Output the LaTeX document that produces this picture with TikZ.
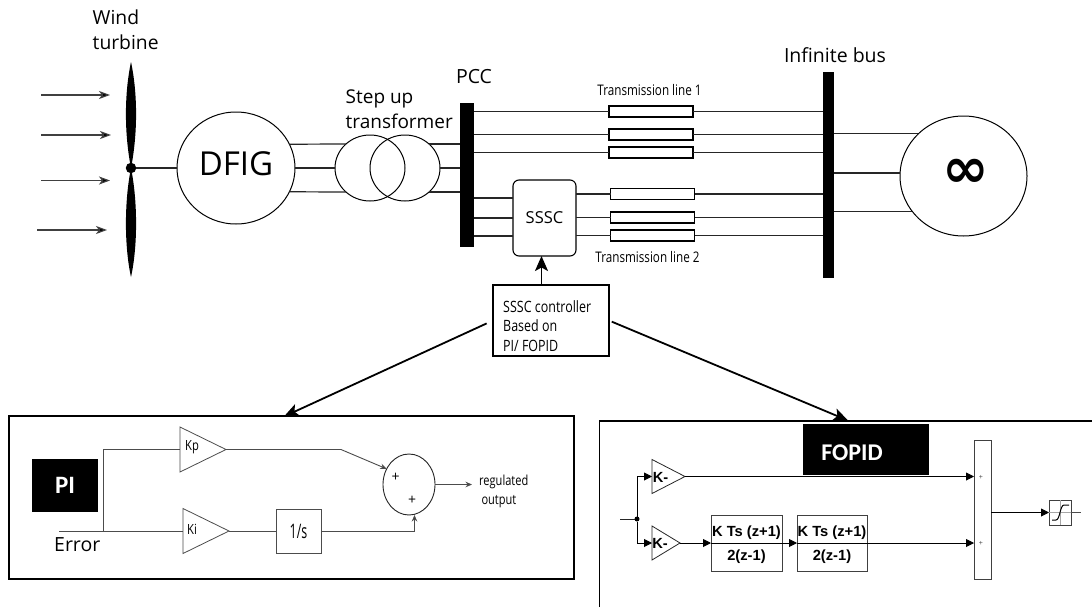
\documentclass[tikz,border=0pt]{standalone}
\usepackage{fontspec}
\setmainfont{Open Sans}
\newfontfamily\narrowfont[FakeStretch=0.8]{Open Sans}
\newfontfamily\vnarrowfont[FakeStretch=0.62]{Open Sans}
\newfontfamily\calbold[BoldFont=Carlito Bold]{Carlito}
\newfontfamily\arialfont{Liberation Sans}
\newfontfamily\symfont{DejaVu Sans}
\usetikzlibrary{arrows.meta,shapes.geometric}
\newcommand{\fsz}[2]{\fontsize{#1}{#2}\selectfont}
\tikzset{
  label text/.style={inner sep=0pt,align=left,font=\fsz{19.3}{25}},
  big label/.style={inner sep=0pt,font=\fsz{19.5}{19.5}},
  narrow text/.style={inner sep=0pt,align=left,font=\narrowfont\fsz{15.6}{19.5}},
  line label/.style={inner sep=0pt,font=\narrowfont\fsz{14.6}{14.6}},
  wire/.style={line width=1.2pt,draw=black!85},
  thinwire/.style={line width=0.9pt,draw=black!70},
  windarrow/.style={line width=1.1pt,draw=black!75,-{Stealth[length=11pt,width=8pt,inset=3pt,fill=black]}},
  ctrlarrow/.style={line width=1.8pt,-{Stealth[length=15pt,width=13pt,inset=3.5pt]}},
  smallarrow/.style={thinwire,-{Stealth[length=6.5pt,width=5.5pt,fill=black]}},
  simarrow/.style={line width=0.9pt,-{Triangle[length=8pt,width=8pt]}},
  busbar/.style={fill=black,draw=none,inner sep=0pt,outer sep=0pt},
  machine/.style={ellipse,draw,line width=1pt,inner sep=0pt,outer sep=0pt},
  linebox/.style={rectangle,draw,line width=1.1pt,fill=white,inner sep=0pt,outer sep=0pt,minimum width=84pt,minimum height=11pt},
  panel/.style={rectangle,draw,line width=1.6pt,inner sep=0pt,outer sep=0pt},
  blackbox/.style={rectangle,fill=black,inner sep=0pt,outer sep=0pt,text=white,font=\calbold\bfseries\fsz{25}{25}},
  gain/.style={isosceles triangle,isosceles triangle stretches,shape border rotate=0,draw=black!70,line width=0.8pt,inner sep=0pt,outer sep=0pt,anchor=lower side},
  simgain/.style={gain,draw=black!85,fill=white},
  simbox/.style={rectangle,draw=black!75,line width=0.9pt,fill=white,inner sep=0pt,outer sep=0pt},
  simtext/.style={inner sep=0pt,font=\arialfont\bfseries\fsz{14.7}{14.7}},
  gaintext/.style={inner sep=0pt,font=\narrowfont\fsz{14}{14}},
  shadowbox/.style={rectangle,fill=black!30,draw=none,inner sep=0pt,outer sep=0pt}
}
\begin{document}
\begin{tikzpicture}[x=1pt,y=-1pt]
\useasboundingbox (0,0) rectangle (1092,608);
\fill[white] (0,0) rectangle (1092,608);
% ---- turbine
\node[label text,anchor=west] (windlabel) at (92.5,29.5) {Wind\\turbine};
\fill (131,62) .. controls (124,95) and (124.5,135) .. (131,168) .. controls (137.5,135) and (138,95) .. (131,62);
\fill (131,168) .. controls (124.5,200) and (124,245) .. (131,277) .. controls (138,245) and (137.5,200) .. (131,168);
\node[circle,fill=black,inner sep=0pt,outer sep=0pt,minimum size=10.5pt] (hub) at (131,168) {};
\coordinate (w1a) at (41,95); \coordinate (w1b) at (110,95);
\coordinate (w2a) at (41,135); \coordinate (w2b) at (111,135);
\coordinate (w3a) at (41,180.5); \coordinate (w3b) at (110,180.5);
\coordinate (w4a) at (37,230); \coordinate (w4b) at (107,230);
\draw[windarrow] (w1a) -- (w1b);
\draw[windarrow] (w2a) -- (w2b);
\draw[windarrow] (w3a) -- (w3b);
\draw[windarrow] (w4a) -- (w4b);
% ---- DFIG
\node[machine,minimum width=118pt,minimum height=112pt] (dfig) at (236,168) {};
\node[inner sep=0pt,font=\fsz{33}{33}] (dfigtext) at (236,164) {DFIG};
\draw[wire] (hub) -- (dfig.west);
% ---- transformer
\node[machine,minimum width=70pt,minimum height=66pt] (tra) at (370,168) {};
\node[machine,minimum width=70pt,minimum height=66pt] (trb) at (405,168) {};
\node[label text,anchor=west,font=\fsz{19}{25}] (stepup) at (345.5,109.5) {Step up\\transformer};
% ---- PCC bus
\node[busbar,minimum width=14pt,minimum height=144pt] (pcc) at (467,175) {};
\node[big label] (pcclabel) at (474,77) {PCC};
\draw[wire] (dfig.east) -- (tra.west);
\draw[wire] (trb.east) -- (pcc.west |- trb.east);
\draw[wire] (dfig.24) -- (tra.135);
\draw[wire] (dfig.-24) -- (tra.225);
\draw[wire] (trb.45) -- (pcc.west |- trb.45);
\draw[wire] (trb.-45) -- (pcc.west |- trb.-45);
% ---- infinite bus
\node[busbar,minimum width=11pt,minimum height=206pt] (inf) at (828.5,175) {};
\node[big label] (inflabel) at (835,55) {Infinite bus};
\node[machine,minimum width=127pt,minimum height=120pt] (grid) at (963.5,176) {};
\node[inner sep=0pt,font=\symfont\bfseries\fsz{56}{56}] (infty) at (966,173) {∞};
\draw[wire] (inf.east |- grid.137) -- (grid.137);
\draw[wire] (inf.east |- grid.west) ++(0,-3) coordinate (g2) -- (g2 -| grid.west);
\draw[wire] (inf.east |- grid.215) -- (grid.215);
% ---- line boxes upper
\node[linebox] (l1) at (651,111.5) {};
\node[linebox] (l2) at (651,134.5) {};
\node[linebox] (l3) at (651,152.5) {};
\draw[wire] (pcc.east |- l1) -- (l1.west) (l1.east) -- (inf.west |- l1);
\draw[wire] (pcc.east |- l2) -- (l2.west) (l2.east) -- (inf.west |- l2);
\draw[wire] (pcc.east |- l3) -- (l3.west) (l3.east) -- (inf.west |- l3);
\node[line label] (tl1) at (649.5,90) {Transmission line 1};
% ---- SSSC
\node[rectangle,draw,rounded corners=6pt,line width=1.1pt,inner sep=0pt,outer sep=0pt,minimum width=63pt,minimum height=76pt,font=\fsz{16.5}{16.5}] (sssc) at (544.5,218) {SSSC};
\node[linebox] (l4) at (652.5,194) {};
\node[linebox] (l5) at (652.5,217.5) {};
\node[linebox] (l6) at (652.5,235.5) {};
\draw[wire] (pcc.east |- 0,198) -- (sssc.west |- 0,198);
\draw[wire] (pcc.east |- 0,218) -- (sssc.west |- 0,218);
\draw[wire] (pcc.east |- 0,236) -- (sssc.west |- 0,236);
\draw[wire] (sssc.east |- l4) -- (l4.west);
\draw[wire] (sssc.east |- l5) -- (l5.west);
\draw[wire] (sssc.east |- l6) -- (l6.west);
\draw[wire] (l4.east) -- (inf.west |- l4);
\draw[wire] (l5.east) -- (inf.west |- l5);
\draw[wire] (l6.east) -- (inf.west |- l6);
\node[line label] (tl2) at (647.5,257) {Transmission line 2};
% ---- controller
\node[rectangle,draw,line width=1.1pt,inner sep=0pt,outer sep=0pt,minimum width=116pt,minimum height=71pt] (ctrl) at (551,320.5) {};
\node[narrow text,anchor=west] (ctrltext) at (503,326) {SSSC controller\\Based on\\PI/ FOPID};
\draw[ctrlarrow] (ctrl.north -| sssc.south) ++(-3,0) coordinate (cs) -- (cs |- sssc.south);
% ---- PI panel
\node[panel,minimum width=565pt,minimum height=163pt] (pipanel) at (291.5,497.5) {};
\node[blackbox,minimum width=66pt,minimum height=53pt] (pilabel) at (65,485.5) {PI};
\coordinate (errin) at (59,531);
\coordinate (errj) at (103,531);
\node[gain,minimum width=45pt,minimum height=46pt] (kp) at (180,449.5) {};
\node[gain,minimum width=45pt,minimum height=46pt] (ki) at (183,531) {};
\node[gaintext] (kptext) at (192,447.5) {Kp};
\node[gaintext] (kitext) at (192,529.5) {Ki};
\node[rectangle,draw=black!70,line width=0.8pt,inner sep=0pt,outer sep=0pt,minimum width=45pt,minimum height=44pt,font=\vnarrowfont\fsz{20}{20}] (int) at (298.5,531) {1/s};
\node[ellipse,draw=black!85,line width=0.9pt,inner sep=0pt,outer sep=0pt,minimum width=52pt,minimum height=61pt] (sum) at (409,484.5) {};
\node[inner sep=0pt,font=\fsz{14}{14}] (p1) at (395.5,477) {+};
\node[inner sep=0pt,font=\fsz{14}{14}] (p2) at (412,500.5) {+};
\node[inner sep=0pt,font=\fsz{19.5}{19.5},anchor=west] (errtext) at (54,545) {Error};
\node[inner sep=0pt,align=left,anchor=west,font=\narrowfont\fsz{13.8}{19}] (regout) at (479,491.5) {regulated\\\,output};
\coordinate (kpbend) at (341,449.5);
\coordinate (outend) at (472,484.5);
\coordinate (ibend) at (414.5,531);
\draw[thinwire] (errin) -- (ki.lower side);
\draw[thinwire] (errj) |- (kp.lower side);
\draw[thinwire] (kp.apex) -- (kpbend);
\draw[smallarrow] (kpbend) -- (sum.145);
\draw[thinwire] (ki.apex) -- (int.west);
\draw[thinwire] (int.east) -- (ibend);
\draw[smallarrow] (ibend) -- (ibend |- sum.south);
\draw[smallarrow] (sum.east) -- (outend);
% ---- controller to panels
\coordinate (pitop) at (284,416.5);
\coordinate (foptop) at (848,420.5);
\draw[ctrlarrow,shorten <=7pt] (ctrl.west) -- (pitop);
% ---- FOPID panel
\coordinate (fbl) at (599.5,607);
\coordinate (ftl) at (599.5,421);
\coordinate (ftr) at (1092,421);
\draw[line width=1.6pt] (fbl) -- (ftl) -- (ftr);
\draw[ctrlarrow,shorten <=3pt] (ctrl.east) -- (foptop);
\node[blackbox,minimum width=126pt,minimum height=51pt] (foplabel) at (866,449.5) {};
\node[inner sep=0pt,text=white,font=\calbold\bfseries\fsz{24}{24}] (foptext) at (852,453) {FOPID};
\coordinate (fin) at (620,519);
\node[circle,fill=black,inner sep=0pt,outer sep=0pt,minimum size=5pt] (fj) at (637,519) {};
\node[simgain,minimum width=34pt,minimum height=33pt] (g1t) at (652,476.5) {};
\node[simgain,minimum width=34pt,minimum height=28pt] (g2t) at (652,543) {};
\node[simtext] (g1text) at (660.5,477) {K-};
\node[simtext] (g2text) at (660,543) {K-};
\node[shadowbox,minimum width=71pt,minimum height=56pt] (s1) at (747.5,544) {};
\node[shadowbox,minimum width=70pt,minimum height=56pt] (s2) at (833,544) {};
\node[shadowbox,minimum width=17pt,minimum height=139pt] (s3) at (983.5,510.5) {};
\node[shadowbox,minimum width=22pt,minimum height=25pt] (s4) at (1061,513.5) {};
\node[simbox,minimum width=71pt,minimum height=56pt] (b1) at (746.5,543) {};
\node[simbox,minimum width=70pt,minimum height=56pt] (b2) at (832,543) {};
\node[simbox,minimum width=17pt,minimum height=139pt] (bar) at (982.5,509.5) {};
\node[simbox,minimum width=22pt,minimum height=25pt] (sat) at (1060,512.5) {};
\draw[line width=0.8pt] (b1.west) -- (b1.east);
\draw[line width=0.8pt] (b2.west) -- (b2.east);
\node[simtext] (b1t) at (746.5,533) {K Ts (z+1)};
\node[simtext] (b1b) at (746.5,556.5) {2(z-1)};
\node[simtext] (b2t) at (832,533) {K Ts (z+1)};
\node[simtext] (b2b) at (832,556.5) {2(z-1)};
\node[inner sep=0pt,font=\arialfont\fsz{7}{7},text=black!70] (q1) at (981,477) {+};
\node[inner sep=0pt,font=\arialfont\fsz{7}{7},text=black!70] (q2) at (981,543) {+};
\draw[black!35,line width=0.4pt] (sat.north) -- (sat.south) (sat.west) -- (sat.east);
\draw[line width=1pt] (1052,520) -- (1056,520) .. controls (1060,520) and (1060,505) .. (1064,505) -- (1069,505);
\coordinate (fout) at (1081,512.5);
\draw[thinwire,draw=black!85] (fin) -- (fj);
\draw[simarrow] (fj) |- (g1t.lower side);
\draw[simarrow] (fj) |- (g2t.lower side);
\draw[simarrow] (g1t.apex) -- (bar.west |- g1t.apex);
\draw[simarrow] (g2t.apex) -- (b1.west);
\draw[simarrow] (b1.east) -- (b2.west);
\draw[simarrow] (b2.east) -- (bar.west |- b2.east);
\draw[simarrow] (bar.east |- sat.west) -- (sat.west);
\draw[thinwire] (sat.east) -- (fout);
\end{tikzpicture}
\end{document}
